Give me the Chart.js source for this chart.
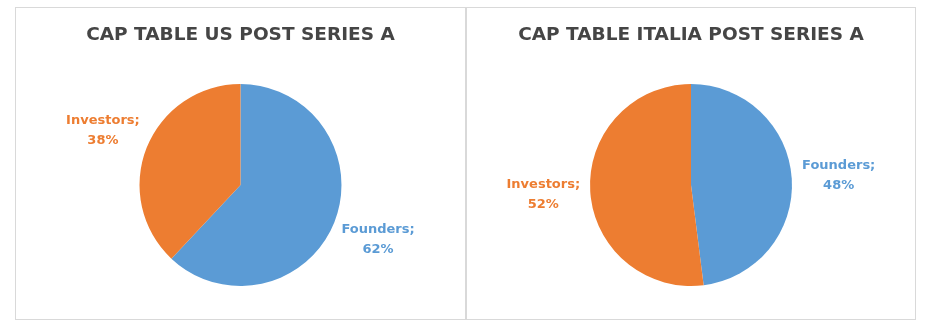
<!DOCTYPE html>
<html>
<head>
<meta charset="utf-8">
<script src="https://cdn.jsdelivr.net/npm/chart.js@4.4.1/dist/chart.umd.min.js"></script>
<style>
body { margin: 0; background: #ffffff; }
.panel { position: absolute; top: 7px; height: 313px; border: 1px solid #d9d9d9; box-sizing: border-box; background: #fff; }
#left_box { left: 15px; width: 451px; }
#right_box { left: 466px; width: 450px; }
</style>
</head>
<body>
<div class="panel" id="left_box"><canvas id="us_chart"></canvas></div>
<div class="panel" id="right_box"><canvas id="it_chart"></canvas></div>
<script>
var categories = ["Founders", "Investors"];
var usValues = [62, 38];
var italiaValues = [48, 52];
var titleUs = "CAP TABLE US POST SERIES A";
var titleItalia = "CAP TABLE ITALIA POST SERIES A";
var sliceColors = ["#5B9BD5", "#ED7D31"];

// draws "Name;" and "xx%" outside each slice, along its middle angle
var outsideLabels = {
    id: 'outsideLabels',
    afterDatasetsDraw: function(chart) {
        var ctx = chart.ctx;
        var meta = chart.getDatasetMeta(0);
        var values = chart.data.datasets[0].data;
        ctx.save();
        ctx.font = "bold 13px 'DejaVu Sans'";
        ctx.textAlign = "center";
        ctx.textBaseline = "middle";
        meta.data.forEach(function(arc, i) {
            var p = arc.getProps(['x', 'y', 'startAngle', 'endAngle', 'outerRadius']);
            var mid = (p.startAngle + p.endAngle) / 2;
            var dist = p.outerRadius + 47;
            var x = p.x + Math.cos(mid) * dist;
            var y = p.y + Math.sin(mid) * dist;
            ctx.fillStyle = sliceColors[i];
            ctx.fillText(chart.data.labels[i] + ";", x, y - 10);
            ctx.fillText(values[i] + "%", x, y + 10);
        });
        ctx.restore();
    }
};

function MakePie(id, title, values) {
    var canvas = document.getElementById(id).getContext('2d');
    return new Chart(canvas, {
        type: 'pie',
        data: {
            labels: categories,
            datasets: [{
                data: values,
                backgroundColor: sliceColors,
                borderWidth: 0
            }]
        },
        options: {
            responsive: true,
            maintainAspectRatio: false,
            animation: false,
            layout: {
                padding: { bottom: 33 }
            },
            plugins: {
                legend: { display: false },
                tooltip: { enabled: false },
                title: {
                    display: true,
                    text: title,
                    color: '#454545',
                    font: { family: 'DejaVu Sans', size: 18.5, weight: 'bold', lineHeight: 1.3 },
                    padding: { top: 15, bottom: 37 }
                }
            }
        },
        plugins: [outsideLabels]
    });
}

var usChart = MakePie("us_chart", titleUs, usValues);
var itChart = MakePie("it_chart", titleItalia, italiaValues);
</script>
</body>
</html>
